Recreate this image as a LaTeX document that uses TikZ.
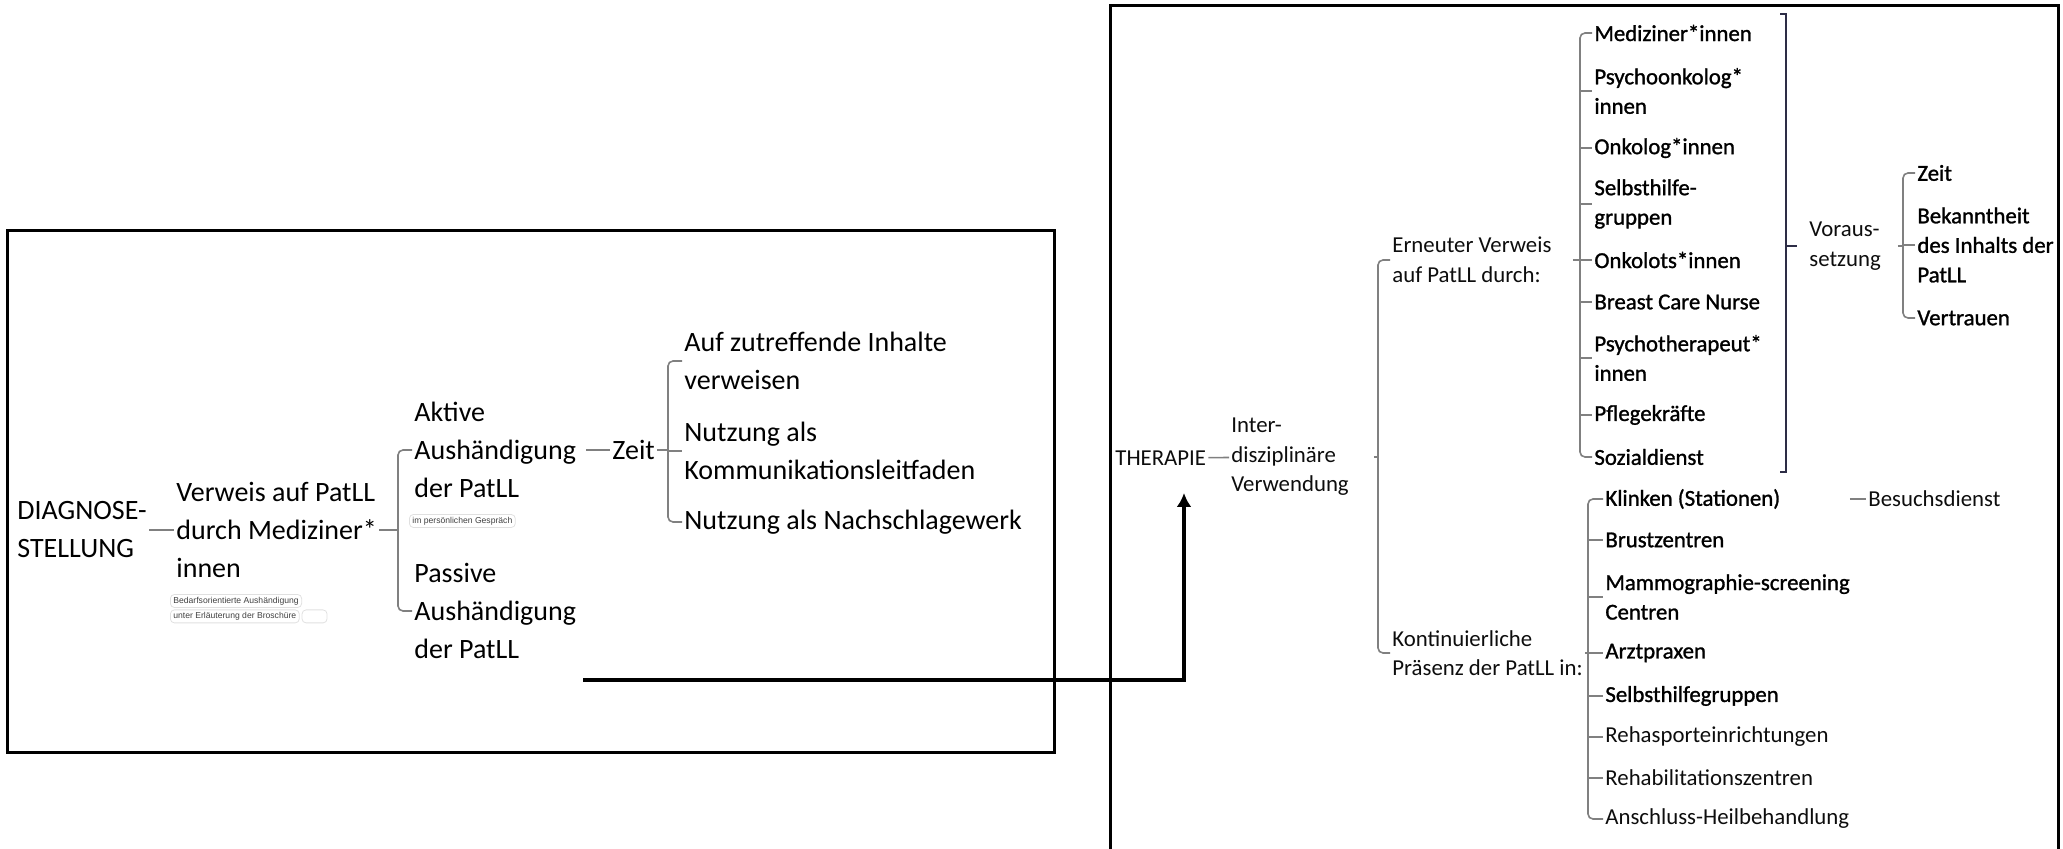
\documentclass[tikz,border=0pt]{standalone}
\usepackage{fontspec}
\setmainfont{Carlito}
\newfontfamily\halbfett[FakeBold=1.2]{Carlito}
\newfontfamily\tagfont{Liberation Sans}
\usetikzlibrary{arrows.meta,positioning}

\begin{document}
\begin{tikzpicture}[x=0.5pt, y=-0.5pt,
    big/.style = {font=\fontsize{14}{19}\selectfont, text=black, align=flush left, anchor=west, inner sep=1pt},
    sml/.style = {font=\fontsize{11.4}{14.75}\selectfont, text=black!95, align=flush left, anchor=west, inner sep=1pt},
    smb/.style = {sml, font=\halbfett\fontsize{11.4}{14.75}\selectfont, text=black},
    tag/.style = {draw=black!12, rounded corners=2pt, font=\tagfont\fontsize{4.3}{5}\selectfont, text=black!75, inner xsep=1.5pt, inner ysep=0.5pt, minimum height=6.5pt, anchor=west},
    link/.style = {draw=black!50, line width=0.8pt},
    brace/.style = {link, rounded corners=2.5pt},
    frame/.style = {line width=1.5pt},
    flow/.style = {line width=2pt, -{Latex[length=7pt,width=7.5pt]}}]
\useasboundingbox (0,0) rectangle (2063,849);

% boxes
\draw[frame] (7,231) rectangle (1054,753);
\draw[frame] (1110,870) -- (1110,6) -- (2058,6) -- (2058,870);

% Diagnosestellung
\node[big] (diag) at (15,530) {DIAGNOSE-\\STELLUNG};
\node[big] (verweis) at (174,530) {Verweis auf PatLL\\durch Mediziner*\\innen};
\node[tag] (bedarf) at (170,601) {Bedarfsorientierte Aushändigung};
\node[tag, below=0.8pt of bedarf.south west, anchor=north west] (erlaeut) {unter Erläuterung der Broschüre};
\node[tag, right=1pt of erlaeut, minimum width=12.5pt] (leer) {};
\node[big] (aktiv) at (412,450) {Aktive\\Aushändigung\\der PatLL};
\node[tag] (gespraech) at (409,521) {im persönlichen Gespräch};
\node[big] (passiv) at (412,611) {Passive\\Aushändigung\\der PatLL};
\node[big] (zeitL) at (610,450) {Zeit};
\node[big] (inhalte) at (682,361) {Auf zutreffende Inhalte\\verweisen};
\node[big] (leitfaden) at (682,451) {Nutzung als\\Kommunikationsleitfaden};
\node[big] (nachschl) at (682,522) {Nutzung als Nachschlagewerk};

\coordinate (bV) at (398,0);
\coordinate (bZ) at (668,0);
\draw[link] (diag) -- (verweis);
\draw[link] (verweis.east) -- (verweis.east -| bV);
\draw[brace] (aktiv.west) -- (aktiv.west -| bV) -- (passiv.west -| bV) -- (passiv.west);
\draw[link, shorten <=4pt] (aktiv.east) -- (zeitL.west);
\draw[link] (zeitL.east) -- (zeitL.east -| bZ);
\draw[brace] (inhalte.west) -- (inhalte.west -| bZ) -- (nachschl.west -| bZ) -- (nachschl.west);
\draw[link] (leitfaden.west -| bZ) -- (leitfaden.west);

% Therapie
\node[sml] (ther) at (1113,458) {THERAPIE};
\node[sml, text width=70pt] (inter) at (1229,457) {Inter-\\disziplinäre\\Verwendung};
\node[sml, text width=89pt] (erneut) at (1390,260) {Erneuter Verweis\\auf PatLL durch:};
\node[sml] (kont) at (1390,653) {Kontinuierliche\\Präsenz der PatLL in:};

\coordinate (bI) at (1378,0);
\draw[link] (ther) -- (inter);
\draw[link] (inter.east) -- (inter.east -| bI);
\draw[brace] (erneut.west) -- (erneut.west -| bI) -- (kont.west -| bI) -- (kont.west);

\node[smb] (medi) at (1592,33) {Mediziner*innen};
\node[smb] (psyon) at (1592,91) {Psychoonkolog*\\innen};
\node[smb] (onk) at (1592,148) {Onkolog*innen};
\node[smb] (selbst) at (1592,204) {Selbsthilfe-\\gruppen};
\node[smb] (onkol) at (1592,260) {Onkolots*innen};
\node[smb] (breast) at (1592,302) {Breast Care Nurse};
\node[smb] (psyth) at (1592,358) {Psychotherapeut*\\innen};
\node[smb] (pflege) at (1592,415) {Pflegekräfte};
\node[smb] (sozial) at (1592,457) {Sozialdienst};

\coordinate (bE) at (1580,0);
\draw[link] (erneut.east) -- (erneut.east -| bE);
\draw[brace] (medi.west) -- (medi.west -| bE) -- (sozial.west -| bE) -- (sozial.west);
\draw[link] (psyon.west -| bE) -- (psyon.west);
\draw[link] (onk.west -| bE) -- (onk.west);
\draw[link] (selbst.west -| bE) -- (selbst.west);
\draw[link] (onkol.west -| bE) -- (onkol.west);
\draw[link] (breast.west -| bE) -- (breast.west);
\draw[link] (psyth.west -| bE) -- (psyth.west);
\draw[link] (pflege.west -| bE) -- (pflege.west);

% Zusammenfassung
\coordinate (sumtop) at (1786,14);
\coordinate (sumbot) at (1786,472);
\draw[link, draw={rgb,255:red,45;green,45;blue,70}] ([xshift=-3pt]sumtop) -- (sumtop) -- (sumbot) -- ([xshift=-3pt]sumbot);
\node[sml, text width=43pt] (voraus) at (1807,246) {Voraus-\\setzung};
\draw[link, draw={rgb,255:red,45;green,45;blue,70}, shorten >=5pt] (voraus.west -| sumtop) -- (voraus.west);

\node[smb] (zeitR) at (1915,173) {Zeit};
\node[smb] (bekannt) at (1915,245) {Bekanntheit\\des Inhalts der\\PatLL};
\node[smb] (vertrauen) at (1915,318) {Vertrauen};

\coordinate (bR) at (1903,0);
\draw[link] (voraus.east) -- (voraus.east -| bR);
\draw[brace] (zeitR.west) -- (zeitR.west -| bR) -- (vertrauen.west -| bR) -- (vertrauen.west);
\draw[link] (bekannt.west -| bR) -- (bekannt.west);

\node[smb, text width=121pt] (klin) at (1603,499) {Klinken (Stationen)};
\node[smb] (brust) at (1603,540) {Brustzentren};
\node[smb] (mammo) at (1603,597) {Mammographie-screening\\Centren};
\node[smb] (arzt) at (1603,653) {Arztpraxen};
\node[smb] (selbstg) at (1603,696) {Selbsthilfegruppen};
\node[sml] (rehasp) at (1603,737) {Rehasporteinrichtungen};
\node[sml] (rehab) at (1603,778) {Rehabilitationszentren};
\node[sml] (ansch) at (1603,819) {Anschluss-Heilbehandlung};
\node[sml] (besuch) at (1866,499) {Besuchsdienst};

\coordinate (bK) at (1588,0);
\draw[link] (kont.east) -- (kont.east -| bK);
\draw[brace] (klin.west) -- (klin.west -| bK) -- (ansch.west -| bK) -- (ansch.west);
\draw[link] (brust.west -| bK) -- (brust.west);
\draw[link] (mammo.west -| bK) -- (mammo.west);
\draw[link] (arzt.west -| bK) -- (arzt.west);
\draw[link] (selbstg.west -| bK) -- (selbstg.west);
\draw[link] (rehasp.west -| bK) -- (rehasp.west);
\draw[link] (rehab.west -| bK) -- (rehab.west);
\draw[link] (klin.east) -- (besuch.west);

% Pfeil
\coordinate (vonLinks) at (583,680);
\coordinate (zurTherapie) at (1184,493);
\draw[flow] (vonLinks) -| (zurTherapie);
\end{tikzpicture}
\end{document}
